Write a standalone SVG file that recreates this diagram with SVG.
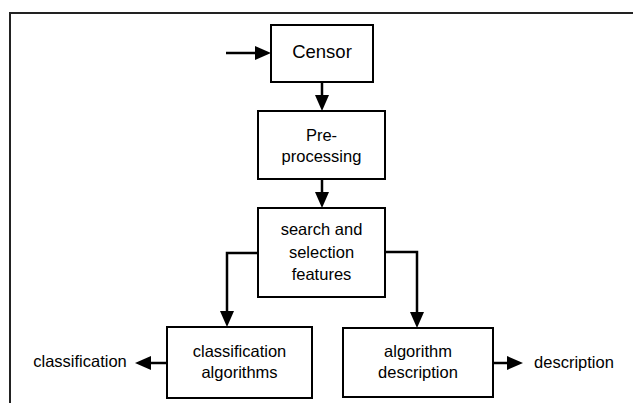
<svg xmlns="http://www.w3.org/2000/svg" width="633" height="403" viewBox="0 0 633 403">
<style>
.box{fill:#fff;stroke:#000;stroke-width:2}
.t{font-family:"Liberation Sans",Arial,sans-serif;font-size:16.5px;fill:#000;text-anchor:middle}
.c{stroke:#000;stroke-width:2.5;fill:none}
</style>
<defs>
<marker id="ah" viewBox="0 0 16 14" markerWidth="16" markerHeight="14" refX="0" refY="7" orient="auto" markerUnits="userSpaceOnUse">
<path d="M0,0 L16,7 L0,14 z" fill="#000"/>
</marker>
</defs>
<rect x="10" y="13" width="640" height="400" fill="none" stroke="#222" stroke-width="2"/>
<g id="connectors">
<line class="c" x1="226" y1="53" x2="255" y2="53" marker-end="url(#ah)"/>
<line class="c" x1="322" y1="82" x2="322" y2="95" marker-end="url(#ah)"/>
<line class="c" x1="322" y1="179" x2="322" y2="192" marker-end="url(#ah)"/>
<polyline class="c" points="258,253 227,253 227,311" marker-end="url(#ah)"/>
<polyline class="c" points="385,252 417,252 417,312" marker-end="url(#ah)"/>
<line class="c" x1="167" y1="363" x2="151" y2="363" marker-end="url(#ah)"/>
<line class="c" x1="493" y1="363" x2="507" y2="363" marker-end="url(#ah)"/>
</g>
<g id="censor">
<rect class="box" x="271" y="25" width="102" height="57"/>
<text class="t" x="322" y="58" style="font-size:18.5px">Censor</text>
</g>
<g id="preprocessing">
<rect class="box" x="258" y="111" width="127" height="68"/>
<text class="t" x="321.5" y="141">Pre-</text>
<text class="t" x="321.5" y="162">processing</text>
</g>
<g id="search">
<rect class="box" x="258" y="208" width="127" height="89"/>
<text class="t" x="321.5" y="235">search and</text>
<text class="t" x="321.5" y="257.5">selection</text>
<text class="t" x="321.5" y="280">features</text>
</g>
<g id="classalg">
<rect class="box" x="167" y="327" width="145" height="71"/>
<text class="t" x="239.5" y="357">classification</text>
<text class="t" x="239.5" y="378">algorithms</text>
</g>
<g id="algdesc">
<rect class="box" x="343" y="328" width="150" height="69"/>
<text class="t" x="418" y="357">algorithm</text>
<text class="t" x="418" y="378">description</text>
</g>
<g id="out-classification">
<text class="t" x="80" y="367">classification</text>
</g>
<g id="out-description">
<text class="t" x="574" y="368">description</text>
</g>
</svg>
